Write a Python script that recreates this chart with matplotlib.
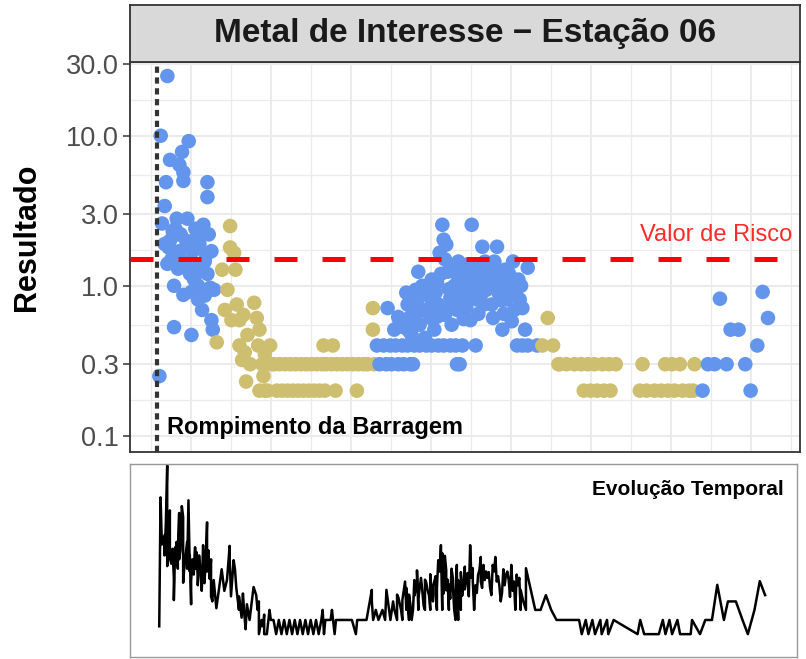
import numpy as np
import matplotlib
matplotlib.use('Agg')
import matplotlib.pyplot as plt

plt.rcParams['font.family'] = ['Liberation Sans', 'DejaVu Sans']

# dias desde o rompimento e resultados de cada grupo
dias_azul = [2, 3, 4, 6, 6, 7, 8, 8, 10, 10, 11, 13, 13, 14, 15, 16, 17, 17, 19, 20,
             20, 20, 21, 22, 23, 24, 25, 26, 26, 27, 29, 29, 31, 31, 32, 34, 35, 36, 36, 38,
             38, 38, 40, 41, 41, 42, 43,
             9, 12, 14, 16, 18, 23, 25, 28, 30, 33, 37, 39,
             165, 167, 170, 172, 173, 175, 176, 178, 179, 181, 181, 182, 184, 185, 185, 187,
             188, 188, 190, 190, 191, 192, 193, 194, 195, 196, 196, 197, 197, 200, 201, 202,
             202, 203, 205, 206, 206, 208, 208, 210, 211, 211, 212, 214, 215, 215, 216, 216,
             217, 218, 220, 220, 221, 223, 223, 224, 225, 225, 226, 227, 227, 229, 229, 230,
             231, 232, 233, 235, 236, 237, 238, 239, 240, 241, 242, 244, 244, 246, 247, 248,
             250, 251, 252, 253, 255, 256, 257, 259, 260, 261, 262, 263, 265, 266, 267, 268,
             270, 271, 272, 274, 274, 276, 278, 278, 285,
             189, 194, 199, 204, 206, 209, 210, 213, 218, 219, 222, 226, 228, 232, 234, 238,
             243, 245, 249, 254, 258, 264, 269, 273,
             409, 413, 418, 422, 427, 430, 436, 441, 445, 450, 454, 458]
res_azul = [0.25, 10, 2.6, 3.4, 1.9, 4.9, 25, 1.4, 6.9, 2.0, 1.5, 1.0, 0.53, 2.4, 2.8, 1.3, 6.4, 1.7, 7.8, 5.7,
            5.0, 0.87, 1.45, 2.0, 2.8, 9.2, 1.2, 0.47, 0.91, 1.7, 2.4, 1.3, 1.0, 0.81, 1.9, 0.69, 2.55, 1.45, 0.86, 4.9,
            3.9, 1.2, 0.97, 1.7, 0.59, 0.51, 0.94,
            1.8, 2.3, 1.6, 2.2, 2.2, 1.3, 1.9, 1.1, 2.1, 1.25, 1.6, 2.2,
            0.4, 0.3, 0.4, 0.3, 0.71, 0.4, 0.3, 0.51, 0.4, 0.3, 0.62, 0.57, 0.4, 0.3, 0.53, 0.9,
            0.4, 0.75, 0.3, 0.62, 0.47, 0.3, 0.4, 0.94, 0.7, 0.83, 1.24, 0.4, 0.55, 0.69, 0.45, 0.4,
            0.95, 0.87, 0.61, 0.4, 1.1, 0.51, 0.8, 1.05, 0.4, 0.75, 1.66, 2.55, 0.4, 2.03, 0.64, 1.5,
            1.88, 1.24, 0.4, 0.83, 0.55, 1.0, 0.78, 0.4, 0.3, 0.69, 1.45, 0.3, 0.94, 0.4, 1.18, 0.6,
            0.81, 1.38, 0.95, 0.59, 2.55, 1.0, 1.32, 0.4, 0.81, 0.65, 1.1, 1.82, 0.9, 1.45, 0.94, 1.2,
            1.18, 0.75, 0.61, 1.45, 1.82, 0.9, 1.05, 0.51, 0.65, 1.28, 0.81, 1.1, 0.94, 0.58, 1.45, 0.69,
            0.4, 1.1, 0.81, 0.4, 0.71, 0.51, 0.4, 1.32, 0.4,
            0.5, 0.6, 1.0, 0.7, 0.8, 0.9, 0.62, 1.2, 0.7, 0.95, 1.3, 1.1, 0.8, 0.72, 1.15, 0.9,
            1.25, 0.75, 1.0, 1.2, 0.8, 1.2, 0.9, 1.0,
            0.2, 0.3, 0.3, 0.82, 0.3, 0.51, 0.51, 0.3, 0.2, 0.4, 0.91, 0.61]

dias_bege = [45, 49, 51, 53, 55, 55, 56, 58, 59, 60, 62, 62, 64, 65, 66, 67, 68, 70, 73, 75,
             76, 77, 77, 79, 80, 81, 81, 83, 85, 86,
             88, 90, 92, 94, 96, 98, 100, 102, 104, 106, 108, 110, 112, 114, 116, 118, 120, 122,
             124, 125, 126, 127, 131, 132, 134, 135, 139, 143, 147, 150, 151, 155, 158, 162, 162, 163,
             289, 293, 297, 301, 302, 307, 313, 318, 320, 323, 325, 328, 330, 334, 335, 339, 340, 344,
             362, 364, 367, 373, 378, 381, 383, 386, 388, 392, 394, 399, 402, 403]
res_bege = [0.42, 1.28, 0.69, 0.94, 2.5, 1.8, 0.59, 1.66, 1.28, 0.75, 0.4, 0.59, 0.32, 0.64, 0.36, 0.23, 0.47, 0.3, 0.77, 0.61,
            0.4, 0.51, 0.2, 0.3, 0.25, 0.35, 0.2, 0.2, 0.4, 0.3,
            0.3, 0.2, 0.3, 0.2, 0.3, 0.2, 0.3, 0.2, 0.3, 0.2, 0.3, 0.2, 0.3, 0.2, 0.3, 0.2, 0.3, 0.2,
            0.3, 0.4, 0.2, 0.3, 0.3, 0.4, 0.2, 0.3, 0.3, 0.3, 0.3, 0.2, 0.3, 0.3, 0.3, 0.71, 0.51, 0.3,
            0.4, 0.61, 0.4, 0.3, 0.3, 0.3, 0.3, 0.3, 0.2, 0.3, 0.2, 0.3, 0.2, 0.3, 0.2, 0.3, 0.2, 0.3,
            0.2, 0.3, 0.2, 0.2, 0.2, 0.3, 0.2, 0.3, 0.2, 0.3, 0.2, 0.2, 0.2, 0.3]

valor_risco = 1.5
dia_rompimento = 0
y_ticks = [0.1, 0.3, 1.0, 3.0, 10.0, 30.0]
y_labels = ['0.1', '0.3', '1.0', '3.0', '10.0', '30.0']
titulo = 'Metal de Interesse \u2212 Estação 06'

AZUL = '#6495ED'
BEGE = '#CDBE70'
GRADE = '#EBEBEB'
BORDA = '#333333'

# junta tudo em ordem de data (como o ggplot desenha)
dias = np.array(dias_azul + dias_bege, dtype=float)
res = np.array(res_azul + res_bege, dtype=float)
cores = np.array([AZUL] * len(dias_azul) + [BEGE] * len(dias_bege))
ordem = np.argsort(dias, kind='stable')

fig = plt.figure(figsize=(8.06, 6.59), dpi=100)
W, H = 806, 659
ax = fig.add_axes([130 / W, 1 - 452 / H, 670 / W, 390 / H])
ax_strip = fig.add_axes([130 / W, 1 - 62 / H, 670 / W, 57 / H])
ax_low = fig.add_axes([130 / W, 1 - 657 / H, 667 / W, 193 / H])

# painel principal
ax.set_yscale('log')
ax.set_xlim(-20, 482)
ax.set_ylim(0.078, 31)
ax.set_yticks(y_ticks)
ax.set_yticklabels(y_labels)
ax.yaxis.set_minor_locator(matplotlib.ticker.FixedLocator(
    [np.sqrt(a * b) for a, b in zip(y_ticks[:-1], y_ticks[1:])]))
ax.yaxis.set_minor_formatter(matplotlib.ticker.NullFormatter())
ax.set_xticks(np.arange(25.5, 482, 60))
ax.set_xticks(np.arange(-4.5, 482, 60), minor=True)
ax.grid(which='major', color=GRADE, lw=1.5, zorder=0)
ax.grid(which='minor', color=GRADE, lw=0.9, zorder=0)
ax.set_axisbelow(True)
ax.tick_params(axis='x', which='both', length=0, labelbottom=False)
ax.tick_params(axis='y', which='minor', length=0)
ax.tick_params(axis='y', which='major', length=5, width=1.1, color=BORDA,
               labelsize=19.5, labelcolor='#4D4D4D', pad=3)
for s in ax.spines.values():
    s.set_color(BORDA)
    s.set_linewidth(1.3)

ax.scatter(dias[ordem], res[ordem], c=cores[ordem], s=110, linewidths=0, zorder=3)
ax.axhline(valor_risco, color='red', lw=3.6, linestyle=(0, (4.6, 5.0)), zorder=4)
ax.axvline(dia_rompimento, color=BORDA, lw=3.0, linestyle=(0, (1.5, 1.1)), zorder=4)
ax.text(476, 2.19, 'Valor de Risco', color='#FF2A2A', fontsize=17, ha='right', va='center')
ax.text(7.5, 0.113, 'Rompimento da Barragem', color='black', fontsize=17,
        fontweight='bold', ha='left', va='center')
ax.set_ylabel('Resultado', fontsize=22, fontweight='bold', color='black')
ax.yaxis.set_label_coords(-0.132, 0.55)

# faixa do titulo
ax_strip.set_facecolor('#D9D9D9')
ax_strip.set_xticks([])
ax_strip.set_yticks([])
for s in ax_strip.spines.values():
    s.set_color(BORDA)
    s.set_linewidth(1.3)
ax_strip.text(0.5, 0.5, titulo, transform=ax_strip.transAxes, fontsize=24,
              fontweight='bold', color='#1A1A1A', ha='center', va='center')

# evolucao temporal
ax_low.plot(dias[ordem], res[ordem], color='black', lw=1.8)
ax_low.set_yscale('log')
ax_low.set_xlim(-20, 482)
ax_low.set_ylim(0.104, 26)
ax_low.set_xticks([])
ax_low.set_yticks([])
ax_low.minorticks_off()
for s in ax_low.spines.values():
    s.set_color('#999999')
    s.set_linewidth(1.0)
ax_low.text(0.98, 0.87, 'Evolução Temporal', transform=ax_low.transAxes, fontsize=15,
            fontweight='bold', ha='right', va='center')

fig.savefig('out.png', dpi=100)
